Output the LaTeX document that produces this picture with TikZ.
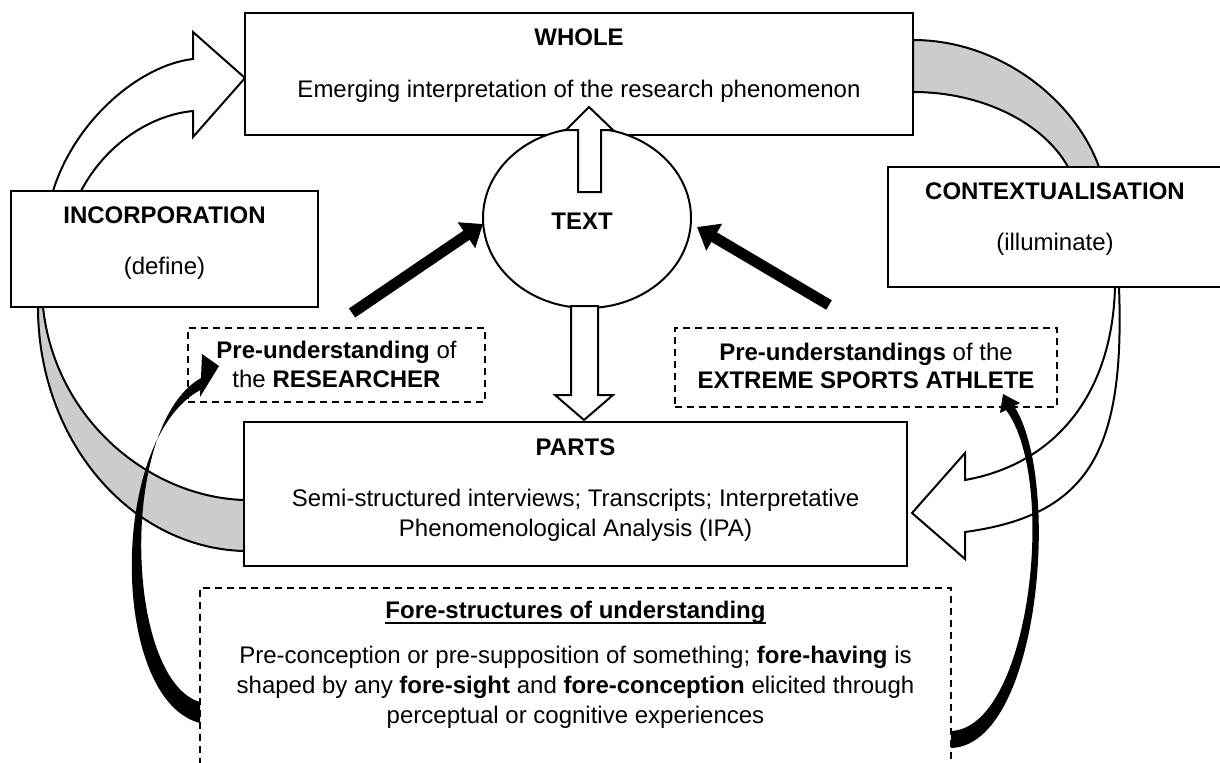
\documentclass[tikz,border=0pt]{standalone}
\usepackage{fontspec}
\setmainfont{Liberation Sans}
\usetikzlibrary{shapes.geometric,arrows.meta}

\begin{document}
\begin{tikzpicture}[x=0.5pt,y=-0.5pt,
  every node/.style={font=\fontsize{12}{15}\selectfont},
  box/.style={draw, line width=1pt, fill=white, rectangle, inner sep=0pt},
  dbox/.style={draw, line width=0.8pt, dash pattern=on 3.5pt off 2.5pt, fill=white, rectangle, inner sep=0pt},
  lbl/.style={anchor=base, inner sep=0pt},
  band/.style={draw, line width=1pt, fill=black!20, line join=round},
  hollow/.style={draw, line width=1pt, fill=white, line join=miter},
  blackshape/.style={fill=black},
  fatarrow/.style={line width=5.5pt, -{Triangle[length=10pt,width=15pt]}}
]
\useasboundingbox (0,0) rectangle (1220,762);

% grey bands linking the boxes
\draw[band] (913,40) .. controls (1000,40) and (1075,100) .. (1099,167)
  -- (1068,167) .. controls (1045,125) and (985,92) .. (913,92) -- cycle;
\draw[band] (38,307) .. controls (38,440) and (130,548) .. (244,551)
  -- (244,500) .. controls (150,497) and (55,420) .. (43,307) -- cycle;

% hollow curved block arrows
\draw[hollow] (53,191) .. controls (75,120) and (140,65) .. (193,59)
  -- (193,32) -- (245,78) -- (193,137) -- (193,111)
  .. controls (150,115) and (105,145) .. (81,191) -- cycle;
\draw[hollow] (1119,287) .. controls (1125,450) and (1090,515) .. (965,532)
  -- (965,559) -- (912,513) -- (965,453) -- (965,480)
  .. controls (1050,465) and (1112,400) .. (1115,287) -- cycle;

% boxes
\node[box, minimum width=334pt, minimum height=61pt] (whole) at (579,74) {};
\node[box, minimum width=153.5pt, minimum height=58pt] (incorp) at (164.5,249) {};
\node[box, minimum width=167pt, minimum height=60pt] (context) at (1055,227) {};
\node[box, minimum width=331.5pt, minimum height=72pt] (parts) at (575.5,494) {};
\node[dbox, minimum width=148.5pt, minimum height=37pt] (preres) at (336.5,365) {};
\node[dbox, minimum width=191pt, minimum height=39.5pt] (preath) at (866,367.5) {};
\node[dbox, minimum width=375.5pt, minimum height=106pt] (fore) at (575.5,694) {};
\node[draw, line width=1pt, fill=white, ellipse, inner sep=0pt,
      minimum width=104pt, minimum height=90pt] (text) at (587,218) {};

% texts
\node[lbl] (textT) at (582,229) {\bfseries TEXT};
\node[lbl] (wholeT) at (579,45) {\bfseries WHOLE};
\node[lbl] (wholeS) at (579,97) {Emerging interpretation of the research phenomenon};
\node[lbl] (incT) at (164.5,223) {\bfseries INCORPORATION};
\node[lbl] (incS) at (164.5,274) {(define)};
\node[lbl] (conT) at (1055,199) {\bfseries CONTEXTUALISATION};
\node[lbl] (conS) at (1055,250) {(illuminate)};
\node[lbl] (resA) at (336.5,358) {\textbf{Pre-understanding} of};
\node[lbl] (resB) at (336.5,387) {the \textbf{RESEARCHER}};
\node[lbl] (athA) at (866,360) {\textbf{Pre-understandings} of the};
\node[lbl] (athB) at (866,388) {\textbf{EXTREME SPORTS ATHLETE}};
\node[lbl] (partT) at (575.5,455) {\bfseries PARTS};
\node[lbl] (partA) at (575.5,506) {Semi-structured interviews; Transcripts; Interpretative};
\node[lbl] (partB) at (575.5,536) {Phenomenological Analysis (IPA)};
\node[lbl] (foreT) at (575.5,618) {\bfseries Fore-structures of understanding};
\draw[line width=1pt] ([yshift=-2.6pt]foreT.base west) -- ([yshift=-2.6pt]foreT.base east);
\node[lbl] (foreA) at (575.5,663) {Pre-conception or pre-supposition of something; \textbf{fore-having} is};
\node[lbl] (foreB) at (575.5,693) {shaped by any \textbf{fore-sight} and \textbf{fore-conception} elicited through};
\node[lbl] (foreC) at (575.5,723) {perceptual or cognitive experiences};

% hollow straight arrows
\draw[hollow] (578,192) -- (578,130) -- (566,130) -- (589,107) -- (613,130)
  -- (601,130) -- (601,192) -- cycle;
\draw[hollow] (571,306) -- (571,395) -- (555,395) -- (584,420) -- (613,395)
  -- (598,395) -- (598,306) -- cycle;

% black straight arrows towards the text
\coordinate (tailL) at (352,313);
\coordinate (tipL) at (483,224);
\coordinate (tailR) at (829,305);
\coordinate (tipR) at (697,227);
\draw[fatarrow] (tailL) -- (tipL);
\draw[fatarrow] (tailR) -- (tipR);

% black curved arrows from the fore-structures
\fill[blackshape] (200,723) .. controls (110,700) and (108,440) .. (200.3,390)
  -- (200,397) -- (219,366) -- (202,354) -- (201,378)
  .. controls (118,425) and (125,680) .. (200,702) -- cycle;
\fill[blackshape] (951,748) .. controls (1040,745) and (1062,480) .. (1014,406)
  -- (1020,403) -- (1003,394) -- (1000,413) -- (1006,410)
  .. controls (1058,480) and (1030,728) .. (951,731) -- cycle;
\end{tikzpicture}
\end{document}
